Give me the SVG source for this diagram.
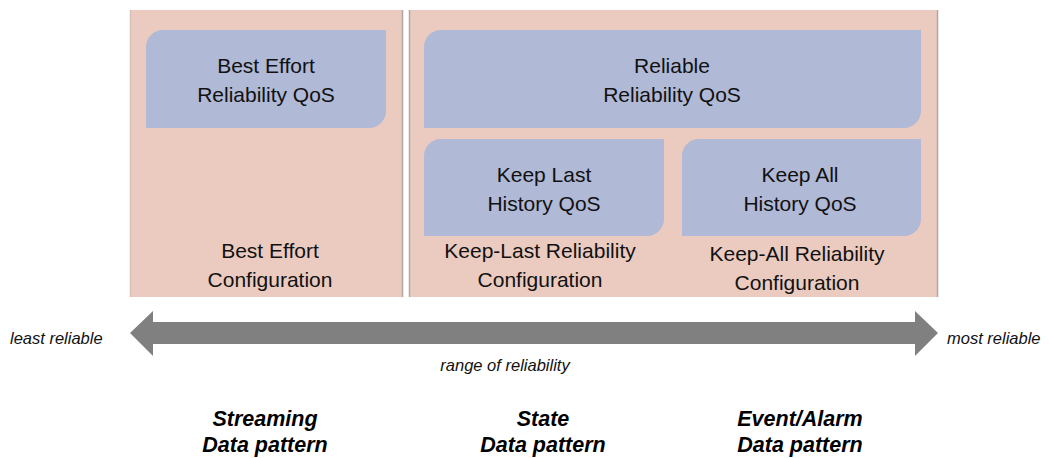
<svg xmlns="http://www.w3.org/2000/svg" width="1049" height="458" viewBox="0 0 1049 458">
<style>
.panel{fill:#ebcbc0}
.edge{stroke:#b0a6a3;stroke-width:1.5}
.qos{fill:#b0b9d6}
.t{font-family:"Liberation Sans",Arial,sans-serif;font-size:21px;fill:#111;text-anchor:middle}
.i{font-family:"Liberation Sans",Arial,sans-serif;font-size:16.5px;font-style:italic;fill:#111}
.b{font-family:"Liberation Sans",Arial,sans-serif;font-size:21.5px;font-style:italic;font-weight:bold;fill:#000;text-anchor:middle}
</style>
<rect width="1049" height="458" fill="#ffffff"/>
<g id="panel-best-effort">
<rect class="panel" x="130" y="10" width="273" height="287"/>
<line class="edge" x1="402.5" y1="10" x2="402.5" y2="297"/>
<line class="edge" x1="130.5" y1="10" x2="130.5" y2="297" style="stroke:#d8bfb7"/>
<text class="t" x="270" y="258">Best Effort</text>
<text class="t" x="270" y="287">Configuration</text>
</g>
<g id="panel-reliable">
<rect class="panel" x="409" y="10" width="529" height="287"/>
<line class="edge" x1="409.5" y1="10" x2="409.5" y2="297"/>
<line class="edge" x1="937.5" y1="10" x2="937.5" y2="297"/>
<text class="t" x="540" y="258">Keep-Last Reliability</text>
<text class="t" x="540" y="287">Configuration</text>
<text class="t" x="797" y="261">Keep-All Reliability</text>
<text class="t" x="797" y="290">Configuration</text>
</g>
<g id="best-effort-qos">
<path class="qos" d="M163,30 H386 V111 A17,17 0 0 1 369,128 H146 V47 A17,17 0 0 1 163,30 Z"/>
<text class="t" x="266" y="73">Best Effort</text>
<text class="t" x="266" y="102">Reliability QoS</text>
</g>
<g id="reliable-qos">
<path class="qos" d="M441,30 H921 V111 A17,17 0 0 1 904,128 H424 V47 A17,17 0 0 1 441,30 Z"/>
<text class="t" x="672" y="73">Reliable</text>
<text class="t" x="672" y="102">Reliability QoS</text>
</g>
<g id="keep-last-qos">
<path class="qos" d="M441,139 H664 V219 A17,17 0 0 1 647,236 H424 V156 A17,17 0 0 1 441,139 Z"/>
<text class="t" x="544" y="182">Keep Last</text>
<text class="t" x="544" y="211">History QoS</text>
</g>
<g id="keep-all-qos">
<path class="qos" d="M699,139 H921 V219 A17,17 0 0 1 904,236 H682 V156 A17,17 0 0 1 699,139 Z"/>
<text class="t" x="800" y="182">Keep All</text>
<text class="t" x="800" y="211">History QoS</text>
</g>
<g id="connectors">
<path d="M130,333 L153,311 V322 H915 V311 L938,333 L915,356 V344 H153 V356 Z" fill="#808080"/>
</g>
<g id="labels">
<text class="i" x="10" y="344">least reliable</text>
<text class="i" x="947" y="344">most reliable</text>
<text class="i" x="505" y="371" text-anchor="middle">range of reliability</text>
<text class="b" x="265" y="426">Streaming</text>
<text class="b" x="265" y="452">Data pattern</text>
<text class="b" x="543" y="426">State</text>
<text class="b" x="543" y="452">Data pattern</text>
<text class="b" x="800" y="426">Event/Alarm</text>
<text class="b" x="800" y="452">Data pattern</text>
</g>
</svg>
